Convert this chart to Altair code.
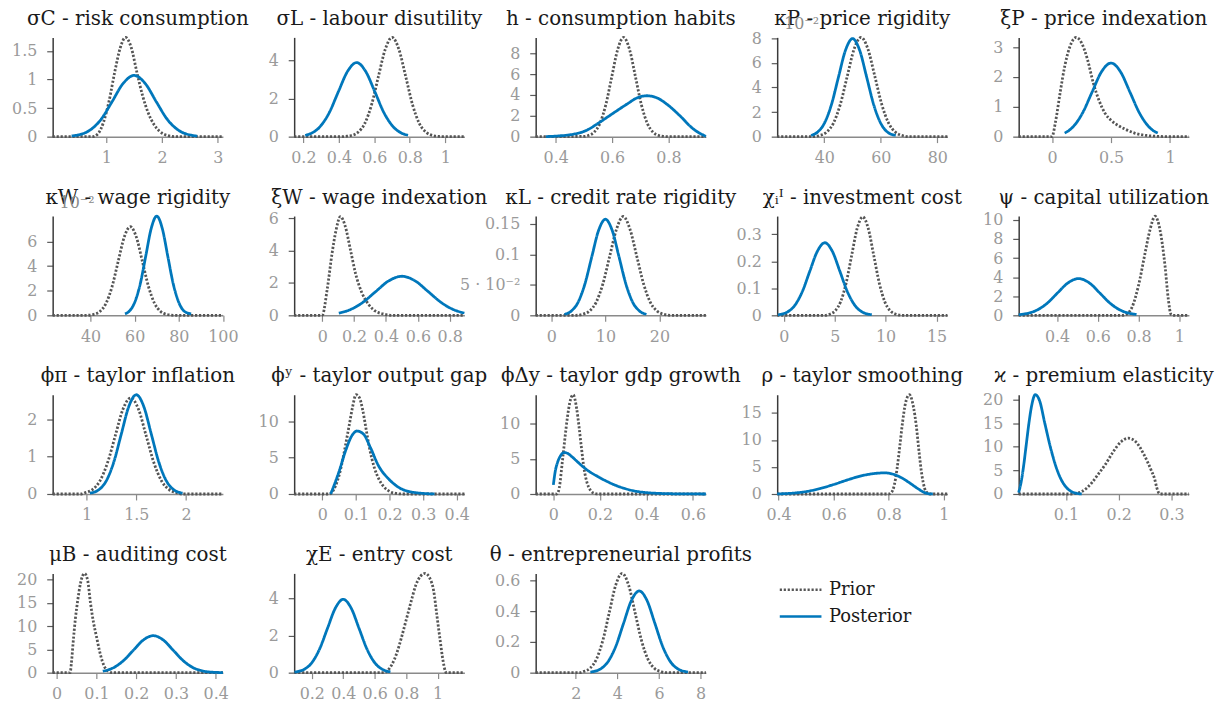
import altair as alt
import pandas as pd

SERIES = ["Prior", "Posterior"]
GRAY = "#555555"
BLUE = "#0077bb"
FONT = "DejaVu Serif"
W, H = 171.5, 100

# ---------------- data (x, density) ----------------
sigc_prior_x = [0.04, 0.75, 0.85, 0.95, 1.05, 1.15, 1.25, 1.345, 1.45, 1.55, 1.65, 1.75, 1.85, 1.95, 2.1, 2.25, 3.09]
sigc_prior_y = [0, 0, 0.05, 0.25, 0.62, 1.12, 1.55, 1.735, 1.55, 1.12, 0.72, 0.42, 0.22, 0.10, 0.02, 0, 0]
sigc_post_x = [0.38, 0.5, 0.7, 0.9, 1.1, 1.3, 1.5, 1.7, 1.9, 2.1, 2.3, 2.5, 2.63]
sigc_post_y = [0.012, 0.03, 0.108, 0.293, 0.604, 0.927, 1.07, 0.927, 0.604, 0.293, 0.108, 0.03, 0.011]

sigl_prior_x = [0.148, 0.42, 0.44, 0.47, 0.508, 0.547, 0.585, 0.623, 0.662, 0.7, 0.738, 0.777, 0.815, 0.853, 0.892, 0.93, 0.96, 0.98, 1.108]
sigl_prior_y = [0, 0, 0.016, 0.058, 0.228, 0.704, 1.69, 3.15, 4.59, 5.2, 4.59, 3.15, 1.69, 0.704, 0.228, 0.058, 0.016, 0, 0]
sigl_post_x = [0.21, 0.243, 0.294, 0.346, 0.397, 0.449, 0.5, 0.551, 0.603, 0.654, 0.706, 0.757, 0.79]
sigl_post_y = [0.073, 0.17, 0.525, 1.26, 2.35, 3.42, 3.88, 3.42, 2.35, 1.26, 0.525, 0.17, 0.073]

h_prior_x = [0.329, 0.5, 0.515, 0.536, 0.557, 0.578, 0.599, 0.62, 0.641, 0.662, 0.683, 0.704, 0.725, 0.746, 0.767, 0.785, 0.8, 0.933]
h_prior_y = [0, 0.02, 0.105, 0.417, 1.285, 3.08, 5.76, 8.38, 9.54, 8.38, 5.76, 3.08, 1.285, 0.417, 0.105, 0.027, 0, 0]
h_post_x = [0.365, 0.41, 0.453, 0.512, 0.547, 0.6, 0.653, 0.69, 0.724, 0.76, 0.794, 0.841, 0.888, 0.933]
h_post_y = [0.0, 0.07, 0.19, 0.64, 1.22, 2.18, 3.13, 3.74, 3.93, 3.72, 3.13, 2.0, 0.74, 0.03]

# kappa_P and kappa_W densities are in units of 10^-2 (as on the axis)
kp_prior_x = [23.3, 36.0, 38.3, 40.75, 43.2, 45.65, 48.1, 50.55, 53.0, 55.45, 57.9, 60.35, 62.8, 65.25, 67.7, 70.0, 83.6]
kp_prior_y = [0, 0, 0.09, 0.355, 1.09, 2.62, 4.9, 7.13, 8.08, 7.13, 4.9, 2.62, 1.09, 0.355, 0.09, 0, 0]
kp_post_x = [35.3, 37.5, 40, 42.5, 45, 47.5, 50, 52.5, 55, 57.5, 60, 62.5, 65.3]
kp_post_y = [0.106, 0.35, 1.08, 2.59, 4.84, 7.04, 7.98, 7.04, 4.84, 2.59, 1.08, 0.35, 0.106]

xip_prior_x = [-0.282, 0.0, 0.03, 0.07, 0.11, 0.15, 0.205, 0.25, 0.3, 0.35, 0.4, 0.45, 0.5, 0.55, 0.62, 0.7, 0.8, 0.9, 1.0, 1.16]
xip_prior_y = [0, 0, 0.5, 1.5, 2.4, 3.0, 3.33, 3.15, 2.6, 1.8, 1.2, 0.78, 0.55, 0.4, 0.25, 0.12, 0.04, 0.01, 0, 0]
xip_post_x = [0.107, 0.14, 0.18, 0.26, 0.34, 0.42, 0.5, 0.58, 0.66, 0.74, 0.82, 0.86, 0.896]
xip_post_y = [0.12, 0.197, 0.334, 0.802, 1.498, 2.18, 2.47, 2.18, 1.498, 0.802, 0.334, 0.197, 0.12]

kw_prior_x = [22.8, 38.0, 41.5, 44.25, 47.0, 49.75, 52.5, 55.25, 58.0, 60.75, 63.5, 66.25, 69.0, 71.75, 74.5, 78.0, 100.0]
kw_prior_y = [0, 0, 0.08, 0.316, 0.974, 2.34, 4.37, 6.35, 7.2, 6.35, 4.37, 2.34, 0.974, 0.316, 0.08, 0, 0]
kw_post_x = [55.6, 57.5, 60, 62.5, 65, 67.5, 70, 72.5, 75, 77.5, 80, 82.5, 85.6]
kw_post_y = [0.12, 0.33, 1.05, 2.54, 4.8, 7.06, 8.06, 7.06, 4.8, 2.54, 1.05, 0.33, 0.12]

xiw_prior_x = [-0.176, 0.0, 0.031, 0.062, 0.087, 0.114, 0.145, 0.177, 0.208, 0.249, 0.291, 0.332, 0.395, 0.43, 0.892]
xiw_prior_y = [0, 0, 1.6, 3.86, 5.29, 6.12, 5.5, 4.06, 2.63, 1.39, 0.68, 0.27, 0.06, 0, 0]
xiw_post_x = [0.104, 0.17, 0.2525, 0.335, 0.4175, 0.5, 0.5825, 0.665, 0.7475, 0.83, 0.892]
xiw_post_y = [0.136, 0.327, 0.786, 1.468, 2.136, 2.42, 2.136, 1.468, 0.786, 0.327, 0.143]

kl_prior_x = [-2.9, 4.5, 5.8, 7.05, 8.3, 9.55, 10.8, 12.05, 13.3, 14.55, 15.8, 17.05, 18.3, 19.55, 20.8, 22.0, 28.6]
kl_prior_y = [0, 0, 0.0018, 0.007, 0.0216, 0.052, 0.097, 0.141, 0.162, 0.141, 0.097, 0.052, 0.0216, 0.007, 0.0018, 0, 0]
kl_post_x = [2.4, 3.675, 4.94, 6.2, 7.47, 8.735, 10.0, 11.265, 12.53, 13.8, 15.06, 16.33, 17.6]
kl_post_y = [0.00175, 0.0069, 0.0213, 0.0511, 0.0955, 0.139, 0.1575, 0.139, 0.0955, 0.0511, 0.0213, 0.0069, 0.00175]

chi_prior_x = [-0.65, 4.0, 4.48, 5.025, 5.57, 6.115, 6.66, 7.205, 7.75, 8.295, 8.84, 9.385, 9.93, 10.475, 11.02, 11.6, 16.07]
chi_prior_y = [0, 0, 0.004, 0.016, 0.0494, 0.1185, 0.221, 0.322, 0.365, 0.322, 0.221, 0.1185, 0.0494, 0.016, 0.004, 0, 0]
chi_post_x = [-0.58, 0.33, 1.07, 1.81, 2.55, 3.29, 4.03, 4.77, 5.51, 6.25, 6.99, 7.73, 8.64]
chi_post_y = [0.0021, 0.0118, 0.0364, 0.0873, 0.163, 0.237, 0.269, 0.237, 0.163, 0.0873, 0.0364, 0.0118, 0.0021]

psi_prior_x = [0.212, 0.72, 0.734, 0.767, 0.799, 0.832, 0.856, 0.881, 0.905, 0.93, 0.946, 0.959, 0.97, 1.047]
psi_prior_y = [0, 0, 0.05, 0.8, 3.06, 6.53, 8.96, 10.38, 8.96, 5.14, 1.67, 0.1, 0, 0]
psi_post_x = [0.212, 0.247, 0.299, 0.351, 0.402, 0.454, 0.506, 0.558, 0.61, 0.661, 0.713, 0.765, 0.79]
psi_post_y = [0.068, 0.169, 0.521, 1.25, 2.335, 3.4, 3.85, 3.4, 2.335, 1.25, 0.521, 0.169, 0.092]

phipi_prior_x = [0.66, 0.95, 0.979, 1.056, 1.134, 1.211, 1.289, 1.366, 1.444, 1.522, 1.599, 1.677, 1.754, 1.832, 1.909, 1.95, 2.37]
phipi_prior_y = [0, 0, 0.0286, 0.113, 0.348, 0.836, 1.562, 2.272, 2.575, 2.272, 1.562, 0.836, 0.348, 0.113, 0.0286, 0, 0]
phipi_post_x = [1.034, 1.125, 1.2, 1.275, 1.35, 1.425, 1.5, 1.575, 1.65, 1.725, 1.8, 1.875, 1.965]
phipi_post_y = [0.022, 0.117, 0.36, 0.864, 1.613, 2.347, 2.66, 2.347, 1.613, 0.864, 0.36, 0.117, 0.022]

phiy_prior_x = [-0.084, 0.02, 0.03, 0.04, 0.05, 0.06, 0.07, 0.08, 0.09, 0.1, 0.11, 0.12, 0.13, 0.14, 0.155, 0.17, 0.185, 0.2, 0.22, 0.24, 0.423]
phiy_prior_y = [0, 0, 0.3, 1.2, 2.6, 4.6, 7.0, 9.5, 12.0, 13.68, 13.3, 11.6, 9.0, 6.4, 3.6, 1.9, 0.9, 0.35, 0.08, 0, 0]
phiy_post_x = [0.0247, 0.035, 0.049, 0.069, 0.0886, 0.103, 0.123, 0.143, 0.167, 0.197, 0.226, 0.266, 0.334]
phiy_post_y = [0, 1.2, 3.0, 5.95, 8.09, 8.68, 8.23, 6.41, 3.91, 2.09, 0.95, 0.27, 0]

phidy_prior_x = [-0.076, 0.015, 0.025, 0.04, 0.05, 0.06, 0.07, 0.085, 0.1, 0.11, 0.12, 0.132, 0.145, 0.16, 0.175, 0.19, 0.656]
phidy_prior_y = [0, 0, 0.8, 5.0, 8.0, 10.8, 12.9, 14.13, 12.2, 9.7, 6.8, 3.6, 1.6, 0.5, 0.1, 0, 0]
phidy_post_x = [0, 0.008, 0.018, 0.03, 0.045, 0.06, 0.08, 0.1, 0.12, 0.15, 0.19, 0.23, 0.27, 0.31, 0.35, 0.4, 0.45, 0.5, 0.56, 0.656]
phidy_post_y = [1.3, 3.2, 4.5, 5.4, 5.9, 5.8, 5.3, 4.7, 4.1, 3.3, 2.5, 1.8, 1.2, 0.75, 0.42, 0.2, 0.09, 0.04, 0.01, 0]

rho_prior_x = [0.395, 0.8, 0.81, 0.82, 0.83, 0.84, 0.85, 0.86, 0.875, 0.89, 0.9, 0.91, 0.92, 0.93, 0.94, 0.95, 1.013]
rho_prior_y = [0, 0, 0.3, 1.6, 4.6, 8.8, 13.2, 16.6, 18.35, 16.0, 12.6, 7.8, 3.6, 1.1, 0.2, 0, 0]
rho_post_x = [0.395, 0.45, 0.5, 0.55, 0.6, 0.65, 0.7, 0.75, 0.785, 0.82, 0.85, 0.88, 0.91, 0.93, 0.95, 0.96]
rho_post_y = [0.02, 0.15, 0.45, 1.0, 1.75, 2.6, 3.35, 3.8, 3.9, 3.6, 2.9, 1.9, 0.85, 0.25, 0.02, 0]

kap_prior_x = [0.0106, 0.11, 0.12, 0.13, 0.14, 0.15, 0.16, 0.175, 0.19, 0.205, 0.218, 0.23, 0.24, 0.248, 0.255, 0.262, 0.268, 0.272, 0.276, 0.279, 0.333]
kap_prior_y = [0, 0, 0.15, 0.5, 1.3, 2.5, 4.0, 6.3, 9.0, 11.1, 11.8, 11.3, 9.9, 8.3, 6.7, 4.9, 3.2, 1.4, 0.2, 0, 0]
kap_post_x = [0.0106, 0.016, 0.02, 0.025, 0.03, 0.035, 0.042, 0.05, 0.06, 0.07, 0.08, 0.09, 0.1, 0.11, 0.12, 0.13]
kap_post_y = [0.3, 3.0, 6.0, 10.5, 15.0, 18.6, 21.0, 19.8, 15.0, 10.2, 6.2, 3.3, 1.5, 0.55, 0.15, 0]

mub_prior_x = [-0.01, 0.034, 0.037, 0.042, 0.047, 0.053, 0.06, 0.07, 0.078, 0.085, 0.093, 0.1, 0.108, 0.115, 0.122, 0.13, 0.14, 0.418]
mub_prior_y = [0, 0, 2.0, 7.0, 11.5, 15.5, 19.2, 21.3, 19.8, 15.0, 10.6, 7.8, 4.6, 2.4, 1.0, 0.3, 0, 0]
mub_post_x = [0.116, 0.143, 0.168, 0.193, 0.218, 0.243, 0.268, 0.293, 0.318, 0.343, 0.368, 0.393, 0.418]
mub_post_y = [0.31, 1.07, 2.58, 4.82, 7.01, 7.94, 7.01, 4.82, 2.58, 1.07, 0.35, 0.088, 0.017]

chie_prior_x = [0.088, 0.66, 0.68, 0.71, 0.74, 0.77, 0.8, 0.83, 0.86, 0.89, 0.92, 0.95, 0.975, 0.995, 1.015, 1.035, 1.048, 1.055, 1.17]
chie_prior_y = [0, 0, 0.1, 0.45, 1.05, 1.9, 2.85, 3.8, 4.7, 5.2, 5.36, 5.1, 4.4, 3.1, 1.8, 0.6, 0.1, 0, 0]
chie_post_x = [0.09, 0.15, 0.2, 0.25, 0.3, 0.35, 0.4, 0.45, 0.5, 0.55, 0.6, 0.65, 0.7]
chie_post_y = [0.033, 0.174, 0.536, 1.286, 2.4, 3.49, 3.96, 3.49, 2.4, 1.286, 0.536, 0.174, 0.044]

theta_prior_x = [0.068, 2.2, 2.37, 2.68, 2.99, 3.3, 3.61, 3.92, 4.23, 4.54, 4.85, 5.16, 5.47, 5.78, 6.09, 6.3, 8.26]
theta_prior_y = [0, 0, 0.0072, 0.0283, 0.0873, 0.2094, 0.391, 0.569, 0.645, 0.569, 0.391, 0.2094, 0.0873, 0.0283, 0.0072, 0, 0]
theta_post_x = [2.7, 3.175, 3.55, 3.925, 4.3, 4.675, 5.05, 5.425, 5.8, 6.175, 6.55, 6.925, 7.4]
theta_post_y = [0.004, 0.0233, 0.0718, 0.172, 0.322, 0.469, 0.531, 0.469, 0.322, 0.172, 0.0718, 0.0233, 0.004]

# titles, axis ranges and ticks
titles = [
    "σC - risk consumption", "σL - labour disutility", "h - consumption habits",
    "κP - price rigidity", "ξP - price indexation", "κW - wage rigidity",
    "ξW - wage indexation", "κL - credit rate rigidity", "χᵢᴵ - investment cost",
    "ψ - capital utilization", "ϕπ - taylor inflation", "ϕʸ - taylor output gap",
    "ϕΔy - taylor gdp growth", "ρ - taylor smoothing", "ϰ - premium elasticity",
    "μB - auditing cost", "χE - entry cost", "θ - entrepreneurial profits",
]
x_ranges = [
    [0.04, 3.09], [0.148, 1.108], [0.329, 0.933], [23.3, 83.6], [-0.282, 1.16],
    [22.8, 100.0], [-0.176, 0.892], [-2.9, 28.6], [-0.65, 16.07], [0.212, 1.047],
    [0.66, 2.37], [-0.084, 0.423], [-0.076, 0.656], [0.395, 1.013], [0.0106, 0.333],
    [-0.01, 0.418], [0.088, 1.17], [0.068, 8.26],
]
y_tops = [1.735, 5.2, 9.54, 8.08, 3.33, 8.06, 6.15, 0.1627, 0.368, 10.4,
          2.66, 13.68, 14.13, 18.35, 21.0, 21.3, 5.36, 0.645]
x_ticks = [
    [1, 2, 3], [0.2, 0.4, 0.6, 0.8, 1], [0.4, 0.6, 0.8], [40, 60, 80], [0, 0.5, 1],
    [40, 60, 80, 100], [0, 0.2, 0.4, 0.6, 0.8], [0, 10, 20], [0, 5, 10, 15], [0.4, 0.6, 0.8, 1],
    [1, 1.5, 2], [0, 0.1, 0.2, 0.3, 0.4], [0, 0.2, 0.4, 0.6], [0.4, 0.6, 0.8, 1], [0.1, 0.2, 0.3],
    [0, 0.1, 0.2, 0.3, 0.4], [0.2, 0.4, 0.6, 0.8, 1], [2, 4, 6, 8],
]
y_ticks = [
    [0, 0.5, 1, 1.5], [0, 2, 4], [0, 2, 4, 6, 8], [0, 2, 4, 6, 8], [0, 1, 2, 3],
    [0, 2, 4, 6], [0, 2, 4, 6], [0, 0.05, 0.1, 0.15], [0, 0.1, 0.2, 0.3], [0, 2, 4, 6, 8, 10],
    [0, 1, 2], [0, 5, 10], [0, 5, 10], [0, 5, 10, 15], [0, 5, 10, 15, 20],
    [0, 5, 10, 15, 20], [0, 2, 4], [0, 0.2, 0.4, 0.6],
]
priors = [
    (sigc_prior_x, sigc_prior_y), (sigl_prior_x, sigl_prior_y), (h_prior_x, h_prior_y),
    (kp_prior_x, kp_prior_y), (xip_prior_x, xip_prior_y), (kw_prior_x, kw_prior_y),
    (xiw_prior_x, xiw_prior_y), (kl_prior_x, kl_prior_y), (chi_prior_x, chi_prior_y),
    (psi_prior_x, psi_prior_y), (phipi_prior_x, phipi_prior_y), (phiy_prior_x, phiy_prior_y),
    (phidy_prior_x, phidy_prior_y), (rho_prior_x, rho_prior_y), (kap_prior_x, kap_prior_y),
    (mub_prior_x, mub_prior_y), (chie_prior_x, chie_prior_y), (theta_prior_x, theta_prior_y),
]
posteriors = [
    (sigc_post_x, sigc_post_y), (sigl_post_x, sigl_post_y), (h_post_x, h_post_y),
    (kp_post_x, kp_post_y), (xip_post_x, xip_post_y), (kw_post_x, kw_post_y),
    (xiw_post_x, xiw_post_y), (kl_post_x, kl_post_y), (chi_post_x, chi_post_y),
    (psi_post_x, psi_post_y), (phipi_post_x, phipi_post_y), (phiy_post_x, phiy_post_y),
    (phidy_post_x, phidy_post_y), (rho_post_x, rho_post_y), (kap_post_x, kap_post_y),
    (mub_post_x, mub_post_y), (chie_post_x, chie_post_y), (theta_post_x, theta_post_y),
]
offset_texts = {3: "10⁻²", 5: "10⁻²"}
y_label_exprs = {7: "datum.value == 0.05 ? '5 · 10⁻²' : format(datum.value, '~f')"}


def make_panel(i):
    prior = pd.DataFrame({"x": priors[i][0], "y": priors[i][1], "series": "Prior"})
    post = pd.DataFrame({"x": posteriors[i][0], "y": posteriors[i][1], "series": "Posterior"})
    yaxis = dict(values=y_ticks[i], format="~f")
    if i in y_label_exprs:
        yaxis["labelExpr"] = y_label_exprs[i]
    enc = dict(
        x=alt.X("x:Q", title=None,
                scale=alt.Scale(domain=x_ranges[i], nice=False, zero=False),
                axis=alt.Axis(values=x_ticks[i], format="~f")),
        y=alt.Y("y:Q", title=None,
                scale=alt.Scale(domain=[0, y_tops[i]], nice=False, zero=True),
                axis=alt.Axis(**yaxis)),
        color=alt.Color("series:N", scale=alt.Scale(domain=SERIES, range=[GRAY, BLUE]),
                        legend=alt.Legend(title=None)),
        strokeDash=alt.StrokeDash("series:N",
                                  scale=alt.Scale(domain=SERIES, range=[[2.2, 1.8], [1, 0]]),
                                  legend=alt.Legend(title=None)),
    )
    l_prior = alt.Chart(prior).mark_line(strokeWidth=2.8, interpolate="monotone").encode(**enc)
    l_post = alt.Chart(post).mark_line(strokeWidth=2.8, interpolate="monotone").encode(**enc)
    ttl = alt.Chart(pd.DataFrame({"t": [titles[i]]})).mark_text(
        font=FONT, fontSize=20, color="#1a1a1a", align="center", baseline="alphabetic"
    ).encode(text="t:N", x=alt.value(W / 2), y=alt.value(-12.5))
    layers = [l_prior, l_post, ttl]
    if i in offset_texts:
        off = alt.Chart(pd.DataFrame({"t": [offset_texts[i]]})).mark_text(
            font=FONT, fontSize=16, color="#8a8a8a", align="left", baseline="alphabetic"
        ).encode(text="t:N", x=alt.value(7), y=alt.value(-8))
        layers.append(off)
    return alt.layer(*layers).properties(width=W, height=H)


panels = [make_panel(i) for i in range(len(titles))]

chart = alt.concat(
    *panels, columns=5, spacing={"row": 80, "column": 71.3}, bounds="flush"
).properties(
    padding={"left": 3, "top": -2, "right": 5, "bottom": 5}
).configure_view(
    strokeWidth=0
).configure_axis(
    labelFont=FONT, labelFontSize=16, labelColor="#9a9a9a", grid=False,
    tickSize=6, tickWidth=1.2, domainWidth=1.5, labelFlush=False, labelOverlap=False,
).configure_axisX(
    domainColor="#8a8a8a", tickColor="#8a8a8a", labelPadding=7
).configure_axisY(
    domainColor="#3a3a3a", tickColor="#5a5a5a", labelPadding=10
).configure_legend(
    orient="none", legendX=731, legendY=544, labelFont=FONT, labelFontSize=18,
    labelColor="#1a1a1a", symbolType="stroke", symbolSize=1764, symbolStrokeWidth=2.6,
    labelOffset=6, clipHeight=25, rowPadding=2, padding=0,
)

chart.save("out.html", embed_options={"renderer": "svg", "actions": False})
